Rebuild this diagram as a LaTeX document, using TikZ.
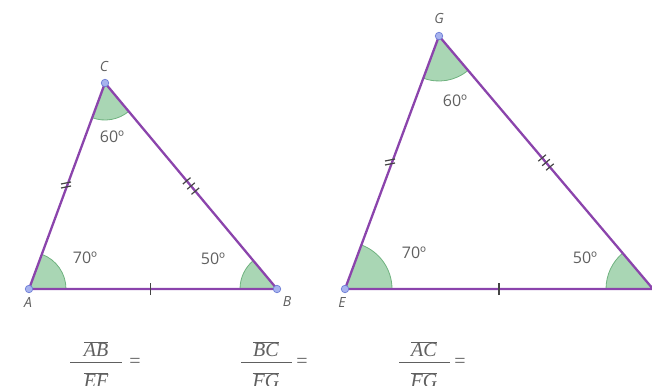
\documentclass[tikz,border=0pt]{standalone}
\usepackage{fontspec}
\setmainfont{Liberation Serif}
\setsansfont{Open Sans}
\usetikzlibrary{calc}
\begin{document}
\begin{tikzpicture}[x=1pt,y=-1pt,
  side/.style={draw=purpleline,line width=2.3pt},
  vdot/.style={circle,fill=dotblue,draw=dotedge,line width=0.7pt,inner sep=0pt,minimum size=7.5pt},
  vlab/.style={font=\sffamily\itshape\fontsize{14}{14}\selectfont,text=txtgray,inner sep=0pt},
  deg/.style={font=\sffamily\fontsize{16}{16}\selectfont,text=txtgray,inner sep=0pt},
  tick/.style={draw=tickcol,line width=1.2pt},
  fracbar/.style={draw=txtgray,line width=1pt},
  frac/.style={font=\fontsize{20}{20}\selectfont,text=txtgray,inner sep=0pt}]
\definecolor{purpleline}{HTML}{8B44AC}
\definecolor{angreen}{HTML}{A9D6B4}
\definecolor{angedge}{HTML}{6FB27F}
\definecolor{dotblue}{HTML}{A7B3EE}
\definecolor{dotedge}{HTML}{6C7CD6}
\definecolor{txtgray}{HTML}{606060}
\definecolor{tickcol}{HTML}{444444}
\useasboundingbox (0,0) rectangle (652,385);
% coordinates
\coordinate (A) at (29,289);
\coordinate (B) at (277,289);
\coordinate (C) at (105,83);
\coordinate (E) at (345,289);
\coordinate (F) at (653,289);
\coordinate (G) at (439,36);
% angle sectors triangle 1
\fill[angreen] (A) -- ++(0:37) arc[start angle=0,end angle=-70,radius=37] -- cycle;
\draw[angedge,line width=0.8pt] (A) ++(0:37) arc[start angle=0,end angle=-70,radius=37];
\fill[angreen] (B) -- ++(180:37) arc[start angle=180,end angle=230,radius=37] -- cycle;
\draw[angedge,line width=0.8pt] (B) ++(180:37) arc[start angle=180,end angle=230,radius=37];
\fill[angreen] (C) -- ++(110:37) arc[start angle=110,end angle=50,radius=37] -- cycle;
\draw[angedge,line width=0.8pt] (C) ++(110:37) arc[start angle=110,end angle=50,radius=37];
% angle sectors triangle 2
\fill[angreen] (E) -- ++(0:47) arc[start angle=0,end angle=-70,radius=47] -- cycle;
\draw[angedge,line width=0.8pt] (E) ++(0:47) arc[start angle=0,end angle=-70,radius=47];
\fill[angreen] (F) -- ++(180:47) arc[start angle=180,end angle=230,radius=47] -- cycle;
\draw[angedge,line width=0.8pt] (F) ++(180:47) arc[start angle=180,end angle=230,radius=47];
\fill[angreen] (G) -- ++(110:45) arc[start angle=110,end angle=50,radius=45] -- cycle;
\draw[angedge,line width=0.8pt] (G) ++(110:45) arc[start angle=110,end angle=50,radius=45];
% sides
\draw[side,line join=round] (A) -- (B) -- (C) -- cycle;
\draw[side,line join=round] (E) -- (F) -- (G) -- cycle;
% single ticks
\coordinate (tAB) at ($(A)!0.49!(B)$);
\draw[tick] ([yshift=-6pt]tAB) -- ([yshift=6pt]tAB);
\coordinate (tEF) at ($(E)!0.50!(F)$);
\draw[tick] ([yshift=-6pt]tEF) -- ([yshift=6pt]tEF);
% double ticks (near-horizontal short strokes)
\foreach \dy in {-2,2}{
  \draw[tick] (61,185+\dy+1) -- (71,185+\dy-1);
  \draw[tick] (385,162+\dy+1) -- (395,162+\dy-1);
}
% triple ticks
\foreach \p in {0.475,0.50,0.525}{
  \draw[tick] ($(C)!\p!(B)!5pt!90:(B)$) -- ($(C)!\p!(B)!5pt!-90:(B)$);
}
\foreach \p in {0.482,0.50,0.518}{
  \draw[tick] ($(G)!\p!(F)!5pt!90:(F)$) -- ($(G)!\p!(F)!5pt!-90:(F)$);
}
% vertex dots
\node[vdot] (dA) at (A) {};
\node[vdot] (dB) at (B) {};
\node[vdot] (dC) at (C) {};
\node[vdot] (dE) at (E) {};
\node[vdot] (dG) at (G) {};
% vertex labels
\node[vlab] (lA) at (28,302) {A};
\node[vlab] (lB) at (287,301) {B};
\node[vlab] (lC) at (104,67) {C};
\node[vlab] (lE) at (342,302) {E};
\node[vlab] (lG) at (439,19) {G};
% angle labels
\node[deg] (a1) at (85,258) {70º};
\node[deg] (a2) at (213,259) {50º};
\node[deg] (a3) at (112,137) {60º};
\node[deg] (a4) at (414,253) {70º};
\node[deg] (a5) at (585,258) {50º};
\node[deg] (a6) at (455,101) {60º};
% fractions
\node[frac] (n1) at (96,349) {$\overline{\mbox{\itshape AB}}$};
\node[frac] (d1) at (96,380) {$\overline{\mbox{\itshape EF}}$};
\draw[fracbar] (70,362) -- (122,362);
\node[frac] (e1) at (135,363) {=};
\node[frac] (n2) at (266,349) {$\overline{\mbox{\itshape BC}}$};
\node[frac] (d2) at (266,380) {$\overline{\mbox{\itshape FG}}$};
\draw[fracbar] (241,362) -- (292,362);
\node[frac] (e2) at (302,363) {=};
\node[frac] (n3) at (424,349) {$\overline{\mbox{\itshape AC}}$};
\node[frac] (d3) at (424,380) {$\overline{\mbox{\itshape FG}}$};
\draw[fracbar] (399,362) -- (450,362);
\node[frac] (e3) at (460,363) {=};
\end{tikzpicture}
\end{document}
